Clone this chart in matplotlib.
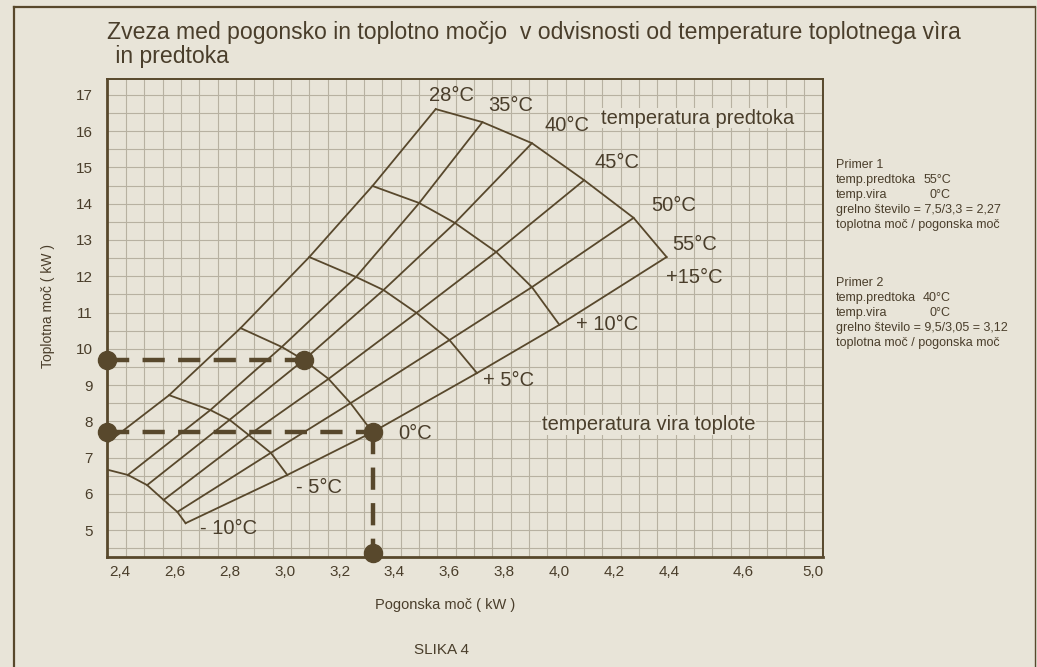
import numpy as np
import matplotlib
matplotlib.use("Agg")
import matplotlib.pyplot as plt
from matplotlib.lines import Line2D

# ---------------- data ----------------
flow_temps = [28, 35, 40, 45, 50, 55]            # temperatura predtoka (°C)
source_temps = [-10, -5, 0, 5, 10, 15]           # temperatura vira toplote (°C)

# drive power (kW) for each flow temperature at each source temperature
drive_28 = [2.26, 2.58, 2.84, 3.09, 3.32, 3.55]
drive_35 = [2.43, 2.73, 2.99, 3.26, 3.49, 3.72]
drive_40 = [2.50, 2.80, 3.07, 3.36, 3.62, 3.90]
drive_45 = [2.56, 2.87, 3.16, 3.48, 3.77, 4.09]
drive_50 = [2.61, 2.95, 3.24, 3.60, 3.90, 4.27]
drive_55 = [2.64, 3.01, 3.32, 3.70, 4.00, 4.39]

# heat output (kW)
heat_28 = [6.85, 8.72, 10.57, 12.53, 14.49, 16.61]
heat_35 = [6.52, 8.31, 10.05, 11.98, 14.02, 16.25]
heat_40 = [6.24, 8.04, 9.69, 11.62, 13.47, 15.67]
heat_45 = [5.83, 7.62, 9.17, 10.99, 12.67, 14.65]
heat_50 = [5.50, 7.13, 8.50, 10.24, 11.70, 13.61]
heat_55 = [5.19, 6.52, 7.70, 9.33, 10.66, 12.53]

x_ticks = [2.4, 2.6, 2.8, 3.0, 3.2, 3.4, 3.6, 3.8, 4.0, 4.2, 4.4, 4.668, 4.923]
x_tick_labels = ["2,4", "2,6", "2,8", "3,0", "3,2", "3,4", "3,6", "3,8",
                 "4,0", "4,2", "4,4", "4,6", "5,0"]
y_ticks = list(range(5, 18))

example_1 = (55, 0)   # Primer 1: flow 55°C, source 0°C
example_2 = (40, 0)   # Primer 2: flow 40°C, source 0°C

flow_labels = ["28°C", "35°C", "40°C", "45°C", "50°C", "55°C"]
source_labels = ["- 10°C", "- 5°C", "0°C", "+ 5°C", "+ 10°C", "+15°C"]

# ---------------- style ----------------
BG = "#e8e4d8"
INK = "#58482c"
TXT = "#4a3e2b"
GRID = "#b7b1a1"
FONT = "Liberation Sans"
plt.rcParams["font.family"] = [FONT, "DejaVu Sans"]

drive = np.array([drive_28, drive_35, drive_40, drive_45, drive_50, drive_55])
heat = np.array([heat_28, heat_35, heat_40, heat_45, heat_50, heat_55])

fig = plt.figure(figsize=(10.37, 6.67), dpi=100, facecolor=BG)
ax = fig.add_axes([107 / 1037, 1 - 557 / 667, (823 - 107) / 1037, (557 - 79) / 667])
ax.set_facecolor(BG)
ax.set_xlim(2.354, 4.959)
ax.set_ylim(4.257, 17.44)

# background graph-paper grid
for gx in np.arange(2.423, 4.96, 1 / 15):
    ax.axvline(gx, color=GRID, lw=0.8, zorder=0)
for gy in np.arange(4.5, 17.5, 0.5):
    ax.axhline(gy, color=GRID, lw=0.8, zorder=0)

# flow-temperature lines
for i in range(len(flow_temps)):
    ax.plot(drive[i], heat[i], color=INK, lw=1.3, zorder=3)
# source-temperature curves
for j in range(len(source_temps)):
    ax.plot(drive[:, j], heat[:, j], color=INK, lw=1.3, zorder=3)

# labels of the flow lines (top ends)
flow_off = [(11, 10), (20, 12), (25, 13), (24, 13), (29, 9), (20, 9)]
for i, lab in enumerate(flow_labels):
    ax.annotate(lab, (drive[i, -1], heat[i, -1]), xytext=flow_off[i],
                textcoords="offset points", ha="center", va="center",
                fontsize=14.5, color=TXT, zorder=5)
# labels of the source curves (on the 55°C line)
src_off = [(31, -4), (23, -9), (31, -1), (23, -5), (34, 0), (20, -15)]
for j, lab in enumerate(source_labels):
    ax.annotate(lab, (drive[-1, j], heat[-1, j]), xytext=src_off[j],
                textcoords="offset points", ha="center", va="center",
                fontsize=14.5, color=TXT, zorder=5)

ax.text(4.151, 16.36, "temperatura predtoka", fontsize=14.5, color=TXT,
        va="center", ha="left", zorder=5,
        bbox=dict(facecolor=BG, edgecolor="none", pad=0.5))
ax.text(3.937, 7.90, "temperatura vira toplote", fontsize=14.5, color=TXT,
        va="center", ha="left", zorder=5,
        bbox=dict(facecolor=BG, edgecolor="none", pad=0.5))

# worked examples (dashed construction lines)
def gp(ft, st):
    i = flow_temps.index(ft)
    j = source_temps.index(st)
    return drive[i, j], heat[i, j]

x1, y1 = gp(*example_1)
x2, y2 = gp(*example_2)
xmin, xmax = ax.get_xlim()
ymin, ymax = ax.get_ylim()
dash = dict(color=INK, lw=3.2, dashes=(5, 3), zorder=4, solid_capstyle="butt")
ax.plot([xmin, x1], [y1, y1], **dash)
ax.plot([x1, x1], [y1, ymin], **dash)
ax.plot([xmin, x2], [y2, y2], **dash)
dot = dict(marker="o", ms=13, color=INK, ls="none", zorder=6, clip_on=False)
ax.plot([xmin, x1, x1], [y1, y1, ymin + 0.1], **dot)
ax.plot([xmin, x2], [y2, y2], **dot)

# axes styling
for side in ["left", "bottom"]:
    ax.spines[side].set_linewidth(2.0)
for side in ["top", "right"]:
    ax.spines[side].set_linewidth(1.4)
for s in ax.spines.values():
    s.set_color(INK)
ax.set_xticks(x_ticks)
ax.set_xticklabels(x_tick_labels)
ax.set_yticks(y_ticks)
ax.set_yticklabels([str(v) for v in y_ticks])
ax.tick_params(axis="x", length=0, pad=6, labelsize=11, labelcolor=TXT)
ax.tick_params(axis="y", length=0, pad=10, labelsize=11, labelcolor=TXT)

# figure texts
fig.text(107 / 1037, 1 - 32 / 667,
         "Zveza med pogonsko in toplotno močjo  v odvisnosti od temperature toplotnega vìra",
         fontsize=16.6, color=TXT, ha="left", va="center")
fig.text(109 / 1037, 1 - 56 / 667, " in predtoka", fontsize=16.6, color=TXT,
         ha="left", va="center")
fig.text(48 / 1037, 1 - 306 / 667, "Toplotna moč ( kW )", rotation=90,
         fontsize=10, color=TXT, ha="center", va="center")
fig.text(445 / 1037, 1 - 605 / 667, "Pogonska moč ( kW )",
         fontsize=10.5, color=TXT, ha="center", va="center")
fig.text(442 / 1037, 1 - 650 / 667, "SLIKA 4",
         fontsize=11, color=TXT, ha="center", va="center")

primer_1 = ["Primer 1", "temp.predtoka", "temp.vira",
            "grelno število = 7,5/3,3 = 2,27", "toplotna moč / pogonska moč"]
primer_1_vals = ["", "55°C", "0°C", "", ""]
primer_2 = ["Primer 2", "temp.predtoka", "temp.vira",
            "grelno število = 9,5/3,05 = 3,12", "toplotna moč / pogonska moč"]
primer_2_vals = ["", "40°C", "0°C", "", ""]
for top, lines, vals in [(165, primer_1, primer_1_vals), (283, primer_2, primer_2_vals)]:
    for k, (ln, v) in enumerate(zip(lines, vals)):
        yy = 1 - (top + 15 * k) / 667
        fig.text(836 / 1037, yy, ln, fontsize=9, color=TXT, ha="left", va="center")
        if v:
            fig.text(951 / 1037, yy, v, fontsize=9, color=TXT, ha="right", va="center")

# outer frame of the scanned page
fig.add_artist(Line2D([14 / 1037, 14 / 1037], [0, 1 - 7 / 667], color=INK, lw=1.6,
                      transform=fig.transFigure))
fig.add_artist(Line2D([14 / 1037, 1035 / 1037], [1 - 7 / 667, 1 - 7 / 667], color=INK,
                      lw=1.6, transform=fig.transFigure))
fig.add_artist(Line2D([1035 / 1037, 1035 / 1037], [0, 1 - 7 / 667], color=INK, lw=1.0,
                      transform=fig.transFigure))

fig.savefig("out.png", dpi=100, facecolor=BG)
